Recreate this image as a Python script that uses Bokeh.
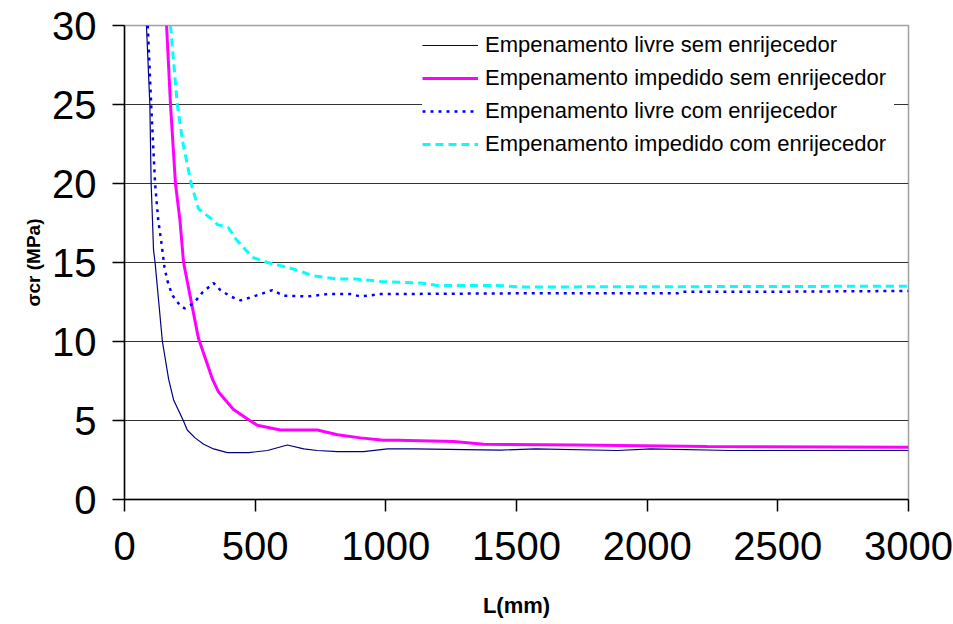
from bokeh.plotting import figure
from bokeh.models import Legend, LegendItem, Range1d, FixedTicker
from bokeh.embed import file_html
from bokeh.resources import INLINE

# Empenamento livre sem enrijecedor
L1 = [84, 97, 102, 107, 111, 117, 145, 169, 188, 225, 240, 270, 303, 341, 394, 475, 547, 623, 686, 738, 815, 915, 1006, 1106, 1439, 1573, 1887, 2013, 2319, 3000]
s1 = [30, 25, 20, 17.7, 15.8, 15.0, 10.0, 7.6, 6.3, 5.0, 4.4, 3.9, 3.5, 3.2, 2.97, 2.97, 3.1, 3.45, 3.2, 3.1, 3.03, 3.03, 3.2, 3.2, 3.13, 3.2, 3.1, 3.2, 3.1, 3.1]

# Empenamento impedido sem enrijecedor
L2 = [161, 176, 195, 212, 226, 283, 337, 360, 417, 475, 508, 597, 738, 815, 903, 991, 1045, 1260, 1374, 1733, 2231, 3000]
s2 = [30, 25, 20, 17.7, 15, 10.2, 7.6, 6.8, 5.7, 5.05, 4.7, 4.4, 4.4, 4.1, 3.9, 3.75, 3.75, 3.67, 3.5, 3.45, 3.35, 3.3]

# Empenamento livre com enrijecedor
L3 = [89, 102, 117, 129, 140, 153, 163, 182, 214, 230, 264, 298, 341, 367, 406, 444, 494, 566, 609, 700, 776, 865, 903, 980, 1515, 2116, 2130, 2484, 3000]
s3 = [30, 25, 20, 17.7, 16.4, 14.7, 13.9, 12.95, 12.25, 12.1, 12.4, 13.1, 13.7, 13.25, 12.85, 12.6, 12.85, 13.25, 12.9, 12.85, 13.0, 13.0, 12.85, 13.0, 13.05, 13.05, 13.15, 13.15, 13.2]

# Empenamento impedido com enrijecedor
L4 = [176, 202, 222, 255, 283, 337, 356, 398, 425, 463, 494, 547, 597, 623, 681, 723, 815, 884, 980, 1133, 1198, 1428, 1515, 3000]
s4 = [30, 25, 22.7, 20, 18.4, 17.7, 17.4, 17.2, 16.5, 15.8, 15.3, 15.0, 14.8, 14.7, 14.4, 14.15, 13.95, 13.95, 13.8, 13.7, 13.55, 13.55, 13.45, 13.5]

names = ["Empenamento livre sem enrijecedor",
         "Empenamento impedido sem enrijecedor",
         "Empenamento livre com enrijecedor",
         "Empenamento impedido com enrijecedor"]

x_ticks = [0, 500, 1000, 1500, 2000, 2500, 3000]
y_ticks = [0, 5, 10, 15, 20, 25, 30]

FONT = "Liberation Sans"

p = figure(width=953, height=620, output_backend="svg", toolbar_location=None,
           x_range=Range1d(0, 3000), y_range=Range1d(0, 30),
           min_border_left=124, min_border_right=45, min_border_top=25, min_border_bottom=120)

p.outline_line_color = "#a0a0a0"
p.outline_line_width = 1.5
p.xgrid.visible = False
p.ygrid.grid_line_color = "#333333"
p.ygrid.grid_line_width = 1
p.ygrid.ticker = FixedTicker(ticks=y_ticks)

for ax, ticks in ((p.xaxis, x_ticks), (p.yaxis, y_ticks)):
    ax.ticker = FixedTicker(ticks=ticks)
    ax.axis_line_color = "black"
    ax.axis_line_width = 1.5
    ax.major_tick_line_color = "black"
    ax.major_tick_line_width = 1.5
    ax.major_tick_out = 12
    ax.major_tick_in = 0
    ax.minor_tick_line_color = None
    ax.major_label_text_font = FONT
    ax.major_label_text_font_size = "40px"
    ax.major_label_text_color = "black"
    ax.axis_label_text_font = FONT
    ax.axis_label_text_font_style = "bold"
    ax.axis_label_text_color = "black"

p.xaxis.axis_label = "L(mm)"
p.xaxis.axis_label_text_font_size = "22px"
p.xaxis.major_label_standoff = 20
p.xaxis.axis_label_standoff = 30
p.yaxis.axis_label = "σcr (MPa)"
p.yaxis.axis_label_text_font_size = "19px"
p.yaxis.major_label_standoff = 16
p.yaxis.axis_label_standoff = 5

r1 = p.line(L1, s1, line_color="#000080", line_width=1.2)
r2 = p.line(L2, s2, line_color="#ff00ff", line_width=3)
r3 = p.line(L3, s3, line_color="#0000ff", line_width=2.5, line_dash="3 5")
r4 = p.line(L4, s4, line_color="#00ffff", line_width=3, line_dash="8 5")

legend = Legend(items=[LegendItem(label=n, renderers=[r]) for n, r in zip(names, [r1, r2, r3, r4])],
                location=(298, 342), orientation="vertical",
                background_fill_color="white", background_fill_alpha=1.0,
                border_line_color=None,
                label_text_font=FONT, label_text_font_size="22px", label_text_color="black",
                glyph_width=56, glyph_height=20, label_height=26, label_width=409,
                spacing=7, padding=8, label_standoff=7, margin=0)
p.add_layout(legend)

open("out.html", "w").write(file_html(p, INLINE))
